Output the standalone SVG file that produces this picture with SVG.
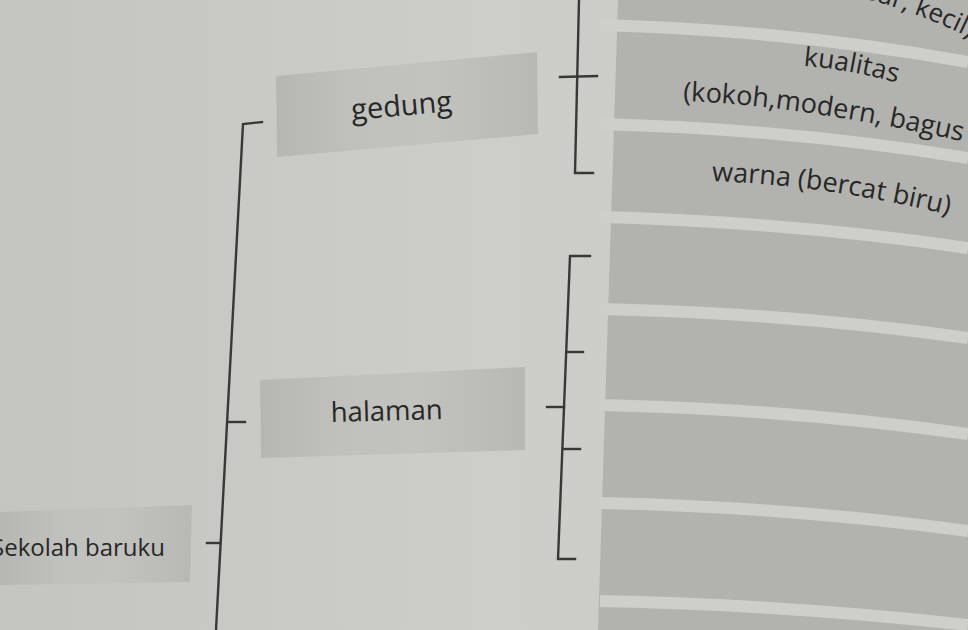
<svg xmlns="http://www.w3.org/2000/svg" width="968" height="630" viewBox="0 0 968 630">
<defs>
<linearGradient id="paper" x1="0" y1="0" x2="1" y2="0">
<stop offset="0" stop-color="#c4c4c0"/>
<stop offset="0.5" stop-color="#cdcdc9"/>
<stop offset="1" stop-color="#cacac6"/>
</linearGradient>
<linearGradient id="box" x1="0" y1="0" x2="1" y2="0">
<stop offset="0" stop-color="#b6b6b2"/>
<stop offset="0.3" stop-color="#c0c0bc"/>
<stop offset="0.6" stop-color="#c2c2be"/>
<stop offset="1" stop-color="#b8b8b4"/>
</linearGradient>
<path id="p-top" d="M 800 -14 Q 890 -2 970 38"/>
<path id="p-kual" d="M 795 65 Q 850 69 905 85"/>
<path id="p-kokoh" d="M 683 101 Q 800 105 975 144"/>
<path id="p-warna" d="M 712 181 Q 830 185 962 218"/>
</defs>
<style>
.lbl{font-family:"Open Sans","Noto Sans","Liberation Sans",sans-serif;fill:#272727}
.ln{stroke:#383838;stroke-width:2.4;fill:none;stroke-linecap:square}
.gap{stroke:#cececa;stroke-width:12;fill:none}
.nb{fill:url(#box)}
</style>
<rect width="968" height="630" fill="url(#paper)"/>

<g id="right-column">
<polygon points="618,0 968,0 968,630 598,630" fill="#b2b2ae"/>
<path class="gap" d="M 600 25 Q 790 30 968 62"/>
<path class="gap" d="M 600 124 Q 790 129 968 158"/>
<path class="gap" d="M 600 217 Q 790 222 968 248"/>
<path class="gap" d="M 600 309 Q 790 313 968 338"/>
<path class="gap" d="M 600 405 Q 790 409 968 434"/>
<path class="gap" d="M 600 503 Q 790 507 968 531"/>
<path class="gap" d="M 600 601 Q 790 605 968 625"/>
</g>

<g id="node-ukuran">
<text class="lbl" font-size="26"><textPath href="#p-top" startOffset="100%" text-anchor="end">besar, kecil)</textPath></text>
</g>
<g id="node-kualitas">
<text class="lbl" font-size="26.5"><textPath href="#p-kual" startOffset="50%" text-anchor="middle">kualitas</textPath></text>
<text class="lbl" font-size="27"><textPath href="#p-kokoh">(kokoh,modern, bagus</textPath></text>
</g>
<g id="node-warna">
<text class="lbl" font-size="27"><textPath href="#p-warna">warna (bercat biru)</textPath></text>
</g>

<g id="node-gedung">
<polygon class="nb" points="276,76 537,52 538,134 277,157"/>
<text class="lbl" font-size="29" x="352" y="120" transform="rotate(-5 352 120)">gedung</text>
</g>
<g id="node-halaman">
<polygon class="nb" points="260,380 525,367 525,450 261,458"/>
<text class="lbl" font-size="27.5" x="331" y="422" transform="rotate(-1.5 331 422)">halaman</text>
</g>
<g id="node-sekolah">
<polygon class="nb" points="0,512 192,505 190,582 0,585"/>
<text class="lbl" font-size="24" x="-9" y="556">Sekolah baruku</text>
</g>

<g id="connectors">
<path class="ln" d="M 262 122 L 243 124 L 216 630"/>
<path class="ln" d="M 228 422 L 245 422"/>
<path class="ln" d="M 207 543 L 220 543"/>
<path class="ln" d="M 579 0 L 575 173 L 593 173"/>
<path class="ln" d="M 560 77 L 597 76"/>
<path class="ln" d="M 590 256 L 570 256 L 558 559 L 575 559"/>
<path class="ln" d="M 568 352 L 583 352"/>
<path class="ln" d="M 547 407 L 564 407"/>
<path class="ln" d="M 563 449 L 580 449"/>
</g>
</svg>
